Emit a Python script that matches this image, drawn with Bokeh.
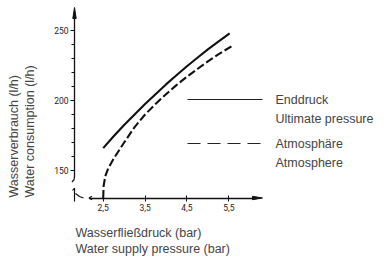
from math import pi
from bokeh.plotting import figure
from bokeh.models import Label, FixedTicker, Range1d
from bokeh.embed import file_html
from bokeh.resources import INLINE

# ---- data ----
ultimate_pressure = [2.5, 2.75, 3.0, 3.25, 3.5, 3.75, 4.0, 4.25, 4.5, 4.75, 5.0, 5.25, 5.52]
ultimate_flow = [166, 174.5, 182.5, 190, 197.5, 204.5, 211.5, 218, 224.5, 230.5, 236.5, 242, 248]
atmos_pressure = [2.5, 2.51, 2.55, 2.62, 2.75, 3.0, 3.25, 3.5, 3.75, 4.0, 4.25, 4.5, 4.75, 5.0, 5.25, 5.58]
atmos_flow = [130.4, 139, 146, 151.5, 158.5, 170, 181, 190, 197.5, 204.5, 211, 217, 222.5, 228, 233, 239]
x_ticks = [2.5, 3.5, 4.5, 5.5]
x_tick_labels = ["2,5", "3,5", "4,5", "5,5"]
y_ticks = [150, 200, 250]
y_minor_ticks = [160, 170, 180, 190, 210, 220, 230, 240]
series_names = [["Enddruck", "Ultimate pressure"], ["Atmosphäre", "Atmosphere"]]
x_title = ["Wasserfließdruck (bar)", "Water supply pressure (bar)"]
y_title = ["Wasserverbrauch (l/h)", "Water consumption (l/h)"]

# ---- layout: the frame fills the whole canvas ----
W, H = 389, 259
PXU, PYU = 41.87, 1.4        # pixels per bar / per l/h
x0 = 2.5 - 102.7 / PXU
y0 = 150 - (H - 170) / PYU
x1 = x0 + W / PXU
y1 = y0 + H / PYU


def X(px):
    return x0 + px / PXU


def Y(py):
    return y0 + (H - py) / PYU


TXT = "#444444"
FONT = "Liberation Sans"

p = figure(width=W, height=H, x_range=Range1d(x0, x1), y_range=Range1d(y0, y1),
           output_backend="svg", toolbar_location=None,
           min_border_left=0, min_border_right=0, min_border_top=0, min_border_bottom=0)
p.outline_line_color = None
p.xgrid.visible = False
p.ygrid.visible = False

xa = p.xaxis[0]
xa.fixed_location = Y(197.5)
xa.bounds = (X(89), X(254))
xa.ticker = FixedTicker(ticks=x_ticks)
xa.major_label_overrides = {t: s for t, s in zip(x_ticks, x_tick_labels)}
xa.axis_line_width = 1.3
xa.axis_line_color = "#111"
xa.major_tick_in = 3
xa.major_tick_out = 3
xa.major_tick_line_color = "#111"
xa.major_label_standoff = 3
xa.major_label_text_font = "Roboto"
xa.major_label_text_font_size = "8.5px"
xa.major_label_text_color = "#222"

ya = p.yaxis[0]
ya.fixed_location = X(74)
ya.bounds = (Y(177), Y(14))
ya.ticker = FixedTicker(ticks=y_ticks, minor_ticks=y_minor_ticks)
ya.axis_line_width = 1.3
ya.axis_line_color = "#111"
ya.major_tick_in = 0
ya.major_tick_out = 4
ya.minor_tick_in = 0
ya.minor_tick_out = 3
ya.major_tick_line_color = "#111"
ya.minor_tick_line_color = "#111"
ya.major_label_standoff = 2
ya.major_label_text_font = "Roboto"
ya.major_label_text_font_size = "8.5px"
ya.major_label_text_color = "#222"

# axis arrows and break marks
p.patch([X(72.3), X(74), X(75.7)], [Y(18), Y(7), Y(18)], color="#111")
p.patch([X(252), X(262), X(252)], [Y(195.8), Y(197.5), Y(199.2)], color="#111")
p.line([X(74), X(73.6), X(71.5)], [Y(176), Y(179), Y(181.5)], line_color="#111", line_width=1.2)
p.line([X(72), X(74), X(74)], [Y(190), Y(187.5), Y(201)], line_color="#111", line_width=1.2)
p.line([X(75), X(79), X(83)], [Y(193), Y(196), Y(197.5)], line_color="#111", line_width=1.2)
p.line([X(91.5), X(88.5), X(91.5)], [Y(195.7), Y(197.5), Y(199.3)], line_color="#111", line_width=1.2)

# curves
p.line(ultimate_pressure, ultimate_flow, line_color="#111", line_width=2.1, line_join="round")
p.line(atmos_pressure, atmos_flow, line_color="#111", line_width=2.1, line_dash="8 3",
       line_join="round")

# legend
p.line([X(187), X(262)], [Y(99), Y(99)], line_color="#222", line_width=1.2)
p.line([X(187), X(262)], [Y(143), Y(143)], line_color="#222", line_width=1.2, line_dash="13 7")
for (l1, l2), yc in zip(series_names, [99, 143]):
    p.add_layout(Label(x=X(275), y=Y(yc), text=l1, text_baseline="middle", text_align="left",
                       text_font=FONT, text_font_size="12.5px", text_color=TXT))
    p.add_layout(Label(x=X(275), y=Y(yc + 19), text=l2, text_baseline="middle", text_align="left",
                       text_font=FONT, text_font_size="12.5px", text_color=TXT))

# axis titles
for t, yc in zip(x_title, [232, 248]):
    p.add_layout(Label(x=X(75), y=Y(yc), text=t, text_baseline="middle", text_align="left",
                       text_font=FONT, text_font_size="12.5px", text_color=TXT))
for t, xc in zip(y_title, [13, 29.5]):
    p.add_layout(Label(x=X(xc), y=Y(197), text=t, text_baseline="middle", text_align="left",
                       angle=pi / 2, text_font=FONT, text_font_size="12.5px", text_color=TXT))

open("out.html", "w").write(file_html(p, INLINE))
